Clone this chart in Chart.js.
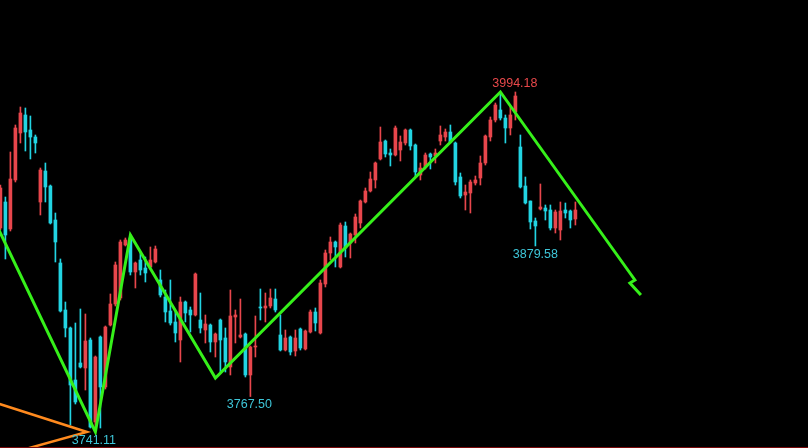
<!DOCTYPE html>
<html>
<head>
<meta charset="utf-8">
<script src="https://cdn.jsdelivr.net/npm/chart.js@4.4.0/dist/chart.umd.min.js"></script>
<style>
    html, body { margin: 0; padding: 0; background: #000; overflow: hidden; }
    #myChart { display: block; }
</style>
</head>
<body>
<canvas id="myChart" width="808" height="448"></canvas>
<script>

const opens = [
    3892.95, 3912.30, 3892.21, 3928.68, 3963.66, 3977.06, 3965.89, 3960.68, 3912.30, 3935.37,
    3924.21, 3898.90, 3866.90, 3831.92, 3818.52, 3779.82, 3792.47, 3788.75, 3809.59, 3748.56,
    3811.82, 3774.61, 3820.75, 3836.38, 3840.85, 3880.30, 3885.51, 3860.20, 3869.13, 3863.18,
    3863.92, 3867.64, 3854.25, 3841.59, 3831.17, 3822.99, 3809.59, 3837.87, 3831.92, 3828.20,
    3824.47, 3817.03, 3820.75, 3808.10, 3824.47, 3811.08, 3789.49, 3826.71, 3811.82, 3814.05,
    3783.54, 3804.38, 3834.15, 3833.41, 3834.89, 3840.10, 3813.31, 3802.14, 3811.82, 3801.40,
    3817.78, 3802.89, 3815.54, 3830.43, 3814.80, 3851.27, 3874.34, 3882.53, 3863.92, 3894.44,
    3881.79, 3887.74, 3896.67, 3912.30, 3920.49, 3928.68, 3944.31, 3957.70, 3948.77, 3947.28,
    3951.00, 3956.22, 3965.89, 3954.73, 3932.40, 3938.35, 3948.03, 3946.54, 3957.70, 3960.68,
    3964.40, 3956.22, 3930.91, 3917.51, 3919.00, 3926.44, 3930.16, 3941.33, 3960.68, 3973.33,
    3980.78, 3974.82, 3967.38, 3979.29, 3953.24, 3924.21, 3913.05, 3898.16, 3907.09, 3907.84,
    3906.35, 3892.95, 3891.46, 3906.35, 3905.60, 3899.65
];
const highs = [
    3924.95, 3916.02, 3949.52, 3969.61, 3983.01, 3982.27, 3976.31, 3962.17, 3937.61, 3941.33,
    3924.95, 3904.11, 3869.88, 3837.87, 3819.26, 3822.24, 3832.66, 3828.94, 3811.08, 3797.68,
    3812.57, 3820.01, 3843.83, 3867.64, 3884.02, 3885.51, 3887.74, 3867.64, 3875.09, 3871.36,
    3878.81, 3879.55, 3861.69, 3846.80, 3854.25, 3830.43, 3841.59, 3838.62, 3834.15, 3859.46,
    3844.57, 3828.20, 3821.50, 3814.80, 3825.22, 3818.52, 3846.80, 3831.92, 3840.10, 3814.80,
    3805.12, 3827.45, 3847.55, 3844.57, 3847.55, 3847.55, 3828.20, 3817.03, 3812.57, 3817.03,
    3818.52, 3817.03, 3831.92, 3833.41, 3854.25, 3876.57, 3886.25, 3883.27, 3896.67, 3897.42,
    3889.23, 3903.37, 3913.79, 3922.72, 3934.63, 3942.07, 3968.12, 3958.45, 3951.75, 3968.87,
    3961.43, 3966.64, 3966.64, 3955.47, 3941.33, 3948.77, 3948.77, 3951.75, 3968.87, 3966.64,
    3969.61, 3956.96, 3933.89, 3924.95, 3928.68, 3931.65, 3946.54, 3962.17, 3975.57, 3985.99,
    3993.43, 3977.06, 3983.75, 3994.18, 3962.17, 3930.91, 3913.05, 3900.39, 3925.70, 3910.07,
    3910.07, 3906.35, 3912.30, 3911.56, 3906.35, 3912.30
];
const lows = [
    3891.46, 3869.88, 3890.72, 3927.19, 3956.22, 3950.26, 3944.31, 3948.77, 3902.63, 3912.30,
    3895.93, 3867.64, 3830.43, 3811.82, 3746.32, 3761.95, 3788.75, 3772.37, 3744.09, 3741.11,
    3744.09, 3773.12, 3820.01, 3834.89, 3839.36, 3879.55, 3857.97, 3848.29, 3857.97, 3852.76,
    3863.18, 3866.90, 3841.59, 3822.99, 3820.75, 3808.10, 3793.21, 3822.99, 3815.54, 3827.45,
    3814.80, 3807.36, 3800.66, 3796.93, 3785.77, 3785.77, 3783.54, 3807.36, 3811.08, 3782.05,
    3767.50, 3796.93, 3824.47, 3822.99, 3833.41, 3830.43, 3801.40, 3801.40, 3798.42, 3797.68,
    3802.14, 3802.14, 3814.80, 3816.29, 3814.05, 3849.04, 3869.13, 3863.92, 3863.18, 3871.36,
    3870.62, 3881.79, 3892.95, 3911.56, 3919.74, 3922.72, 3943.56, 3945.79, 3939.10, 3946.54,
    3942.82, 3954.73, 3951.00, 3930.91, 3928.68, 3936.86, 3936.86, 3941.33, 3954.73, 3957.70,
    3956.22, 3924.95, 3915.28, 3906.35, 3904.11, 3924.95, 3924.95, 3939.84, 3957.70, 3971.85,
    3973.33, 3956.22, 3962.17, 3973.33, 3922.72, 3910.81, 3892.21, 3879.58, 3906.35, 3898.90,
    3891.46, 3889.23, 3884.02, 3900.39, 3892.95, 3895.18
];
const closes = [
    3922.72, 3887.74, 3929.42, 3967.38, 3978.54, 3964.40, 3960.68, 3956.22, 3936.12, 3923.47,
    3896.67, 3882.53, 3831.17, 3818.52, 3776.09, 3763.44, 3789.49, 3808.84, 3744.82, 3796.93,
    3774.61, 3819.26, 3836.38, 3865.41, 3882.53, 3884.02, 3860.20, 3866.90, 3861.69, 3859.46,
    3869.13, 3877.32, 3843.08, 3830.43, 3822.24, 3814.80, 3837.87, 3829.68, 3828.20, 3858.71,
    3818.52, 3821.50, 3808.10, 3814.05, 3809.59, 3793.21, 3827.45, 3828.20, 3813.31, 3783.54,
    3804.38, 3805.12, 3833.41, 3834.89, 3840.85, 3831.92, 3802.14, 3811.08, 3800.66, 3811.08,
    3803.63, 3816.29, 3830.43, 3822.24, 3852.01, 3874.34, 3882.53, 3878.81, 3895.18, 3878.06,
    3888.48, 3901.14, 3913.05, 3920.49, 3929.42, 3941.33, 3956.96, 3948.03, 3947.28, 3967.38,
    3956.96, 3965.89, 3953.98, 3934.63, 3937.61, 3947.28, 3945.79, 3948.77, 3962.17, 3964.40,
    3956.96, 3927.19, 3916.77, 3919.74, 3927.19, 3928.68, 3941.33, 3961.43, 3973.33, 3984.50,
    3974.82, 3967.38, 3977.06, 3991.20, 3923.47, 3911.56, 3897.42, 3894.44, 3908.58, 3905.60,
    3892.95, 3904.86, 3905.60, 3904.11, 3898.90, 3906.35
];

// zigzag turning points (bar index, price), the last three are the projected tail
const zigIdx = [-1, 19, 26, 43, 100, 126.9, 125.9, 128.1];
const zigVal = [3897.0, 3741.11, 3887.74, 3781.30, 3994.18, 3854.25, 3852.01, 3843.08];

// orange support lines meeting near the low
const fanIdx = [-1, 17.3, -1];
const fanVal = [3763.0, 3741.11, 3722.2];

// marked extremes: bar index, price, above/below
const markIdx = [102.9, 107, 49.8, 18.7];
const markVal = [3994.18, 3879.58, 3767.50, 3741.11];
const markUp = [true, false, false, false];

const upColor = '#e8464c';
const downColor = '#22d4e2';

const candleColors = opens.map((o, i) => closes[i] >= o ? upColor : downColor);

const wicks = lows.map((l, i) => ({ x: i, y: [l, highs[i]] }));
const bodies = opens.map((o, i) => ({ x: i, y: [o, closes[i]] }));
const zigzag = zigIdx.map((x, i) => ({ x: x, y: zigVal[i] }));
const fan = fanIdx.map((x, i) => ({ x: x, y: fanVal[i] }));

const markPlugin = {
    id: 'marks',
    afterDatasetsDraw(chart) {
        const c = chart.ctx;
        const xs = chart.scales.x, ys = chart.scales.y;
        c.save();
        c.font = '12.5px "Liberation Sans", Arial, sans-serif';
        c.textAlign = 'center';
        markIdx.forEach((mx, i) => {
            const px = xs.getPixelForValue(mx);
            const py = ys.getPixelForValue(markVal[i]);
            c.fillStyle = markUp[i] ? '#e8484a' : '#3ec6d8';
            if (markUp[i]) {
                c.textBaseline = 'bottom';
                c.fillText(markVal[i].toFixed(2), px, py - 2);
            } else {
                c.textBaseline = 'top';
                c.fillText(markVal[i].toFixed(2), px, py + 2);
            }
        });
        // bottom frame
        const a = chart.chartArea;
        c.strokeStyle = '#7a0a0a';
        c.lineWidth = 1;
        c.beginPath();
        c.moveTo(a.left, a.bottom - 0.5);
        c.lineTo(a.right, a.bottom - 0.5);
        c.stroke();
        c.restore();
    }
};

const ctx = document.getElementById('myChart');

const myChart = new Chart(ctx, {
    type: 'bar',
    data: {
        datasets: [
            {
                type: 'line',
                data: zigzag,
                borderColor: '#36f01a',
                borderWidth: 3,
                pointRadius: 0,
                tension: 0,
                order: 0
            },
            {
                type: 'line',
                data: fan,
                borderColor: '#ff8a1e',
                borderWidth: 2.5,
                pointRadius: 0,
                tension: 0,
                order: 0
            },
            {
                data: bodies,
                backgroundColor: candleColors,
                barThickness: 3,
                minBarLength: 1,
                grouped: false,
                order: 1
            },
            {
                data: wicks,
                backgroundColor: candleColors,
                barThickness: 1,
                grouped: false,
                order: 2
            }
        ]
    },
    options: {
        responsive: false,
        animation: false,
        layout: { padding: 0 },
        plugins: {
            legend: { display: false },
            tooltip: { enabled: false }
        },
        scales: {
            x: { type: 'linear', display: false, offset: false, min: -0.08, max: 161.52 },
            y: { type: 'linear', display: false, min: 3729.20, max: 4062.65 }
        }
    },
    plugins: [markPlugin]
});

</script>
</body>
</html>
